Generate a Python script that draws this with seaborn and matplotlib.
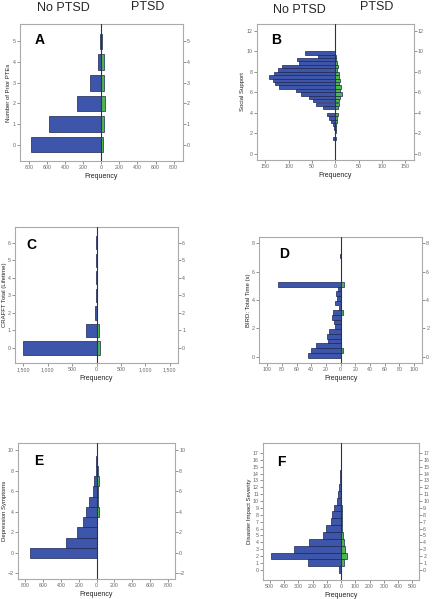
import matplotlib
matplotlib.use("Agg")
import matplotlib.pyplot as plt
from matplotlib.ticker import FuncFormatter
import numpy as np
import pandas as pd
import seaborn as sns

sns.set_theme(style="white")
plt.rcParams["font.family"] = ["Liberation Sans", "DejaVu Sans"]

BLUE = "#3D55AB"
GREEN = "#4CB84C"
EDGE = "#1E2650"

# --- A: number of prior PTEs ---
pte_bins = [0, 1, 2, 3, 4, 5]
pte_no = [780, 583, 268, 128, 37, 15]
pte_yes = [20, 30, 45, 35, 25, 5]

# --- B: social support (1/3-point bins) ---
support_bins = [9.83, 9.5, 9.17, 8.83, 8.5, 8.17, 7.83, 7.5, 7.17, 6.83,
                6.5, 6.17, 5.83, 5.5, 5.17, 4.83, 4.5, 4.17, 3.83, 3.5,
                3.17, 2.83, 2.5, 2.17, 1.83, 1.5, 1.17, 0.83, 0.5, 0.17]
support_no = [65, 38, 83, 79, 114, 124, 131, 143, 134, 129,
              121, 84, 74, 56, 49, 41, 27, 0, 18, 13,
              9, 6, 3, 1, 1, 5, 1, 1, 0, 1]
support_yes = [0, 1, 2, 4, 6, 3, 7, 8, 9, 8,
               12, 9, 15, 9, 7, 7, 6, 0, 5, 4,
               3, 2, 1, 1, 0, 1, 0, 0, 0, 0]

# --- C: CRAFFT total (lifetime) ---
crafft_bins = [0, 1, 2, 3, 4, 5, 6]
crafft_no = [1500, 226, 34, 12, 8, 5, 3]
crafft_yes = [75, 48, 5, 3, 3, 2, 1]

# --- D: BIRD total time (s) ---
bird_bins = [0.1, 0.43, 0.77, 1.1, 1.43, 1.77, 2.1, 2.43, 2.77, 3.1,
             3.43, 3.77, 4.1, 4.43, 4.77, 5.1, 7.1]
bird_no = [44, 40, 33, 17, 18, 16, 7, 9, 12, 11, 2, 7, 5, 6, 4, 86, 1]
bird_yes = [1, 3, 1, 1, 1, 1, 1, 1, 1, 3, 1, 1, 1, 1, 1, 4, 0]

# --- E: depression symptoms ---
dep_bins = [0, 1, 2, 3, 4, 5, 6, 7, 8, 9]
dep_no = [743, 343, 224, 149, 116, 86, 41, 26, 11, 4]
dep_yes = [2, 3, 4, 6, 22, 18, 20, 32, 12, 10]

# --- F: disaster impact severity ---
impact_bins = list(range(0, 17))
impact_no = [12, 233, 493, 328, 226, 128, 105, 67, 60, 47, 28, 21, 14, 9, 4, 2, 2]
impact_yes = [0, 18, 40, 28, 18, 15, 10, 5, 5, 4, 3, 2, 2, 1, 1, 0, 0]

PANELS = [
    dict(letter="A", bins=pte_bins, no=pte_no, yes=pte_yes, width=0.76,
         ylabel="Number of Prior PTEs", xmax=900, xticks=np.arange(-800, 801, 200),
         ylim=(-0.8, 5.85), yticks=np.arange(0, 6, 1),
         rect=(0.046, 0.731, 0.377, 0.229), letter_xy=(0.12, 0.88)),
    dict(letter="B", bins=support_bins, no=support_no, yes=support_yes, width=1.0,
         ylabel="Social Support", xmax=168, xticks=np.arange(-150, 151, 50),
         ylim=(-0.6, 12.65), yticks=np.arange(0, 13, 2),
         rect=(0.595, 0.733, 0.363, 0.227), letter_xy=(0.12, 0.88)),
    dict(letter="C", bins=crafft_bins, no=crafft_no, yes=crafft_yes, width=0.76,
         ylabel="CRAFFT Total (Lifetime)", xmax=1670, xticks=np.arange(-1500, 1501, 500),
         ylim=(-0.86, 6.9), yticks=np.arange(0, 7, 1),
         rect=(0.035, 0.394, 0.377, 0.227), letter_xy=(0.10, 0.87)),
    dict(letter="D", bins=bird_bins, no=bird_no, yes=bird_yes, width=1.0,
         ylabel="BIRD: Total Time (s)", xmax=111, xticks=np.arange(-100, 101, 20),
         ylim=(-0.45, 8.42), yticks=np.arange(0, 9, 2),
         rect=(0.600, 0.394, 0.377, 0.210), letter_xy=(0.15, 0.87)),
    dict(letter="E", bins=dep_bins, no=dep_no, yes=dep_yes, width=1.0,
         ylabel="Depression Symptoms", xmax=880, xticks=np.arange(-800, 801, 200),
         ylim=(-2.57, 10.7), yticks=np.arange(-2, 11, 2),
         rect=(0.042, 0.033, 0.363, 0.227), letter_xy=(0.13, 0.87)),
    dict(letter="F", bins=impact_bins, no=impact_no, yes=impact_yes, width=1.0,
         ylabel="Disaster Impact Severity", xmax=546, xticks=np.arange(-500, 501, 100),
         ylim=(-1.46, 18.5), yticks=np.arange(0, 18, 1),
         rect=(0.609, 0.032, 0.361, 0.229), letter_xy=(0.12, 0.86)),
]


def abs_fmt(v, _pos):
    return f"{abs(v):,.0f}"


def draw_panel(fig, p):
    ax = fig.add_axes(p["rect"])
    df = pd.concat([
        pd.DataFrame({"value": p["bins"], "freq": [-v for v in p["no"]], "group": "No PTSD"}),
        pd.DataFrame({"value": p["bins"], "freq": p["yes"], "group": "PTSD"}),
    ], ignore_index=True)
    sns.barplot(
        data=df, x="freq", y="value", hue="group", orient="h", native_scale=True,
        dodge=False, width=p["width"], saturation=1, legend=False,
        palette={"No PTSD": BLUE, "PTSD": GREEN},
        edgecolor=EDGE, linewidth=0.5, ax=ax,
    )
    ax.axvline(0, color="#333333", lw=0.8, zorder=5)
    ax.set_xlim(-p["xmax"], p["xmax"])
    ax.set_ylim(*p["ylim"])
    ax.set_xticks(p["xticks"])
    ax.set_yticks(p["yticks"])
    ax.xaxis.set_major_formatter(FuncFormatter(abs_fmt))
    ax.tick_params(axis="both", labelsize=3.8, colors="#666666", length=2, width=0.5,
                   pad=1, left=True, bottom=True, right=True, labelright=True)
    for s in ax.spines.values():
        s.set_color("#AAAAAA")
        s.set_linewidth(0.8)
    ax.set_xlabel("Frequency", fontsize=5, color="#222222", labelpad=2)
    ax.set_ylabel(p["ylabel"], fontsize=4.3, color="#222222", labelpad=1)
    ax.text(*p["letter_xy"], p["letter"], transform=ax.transAxes, fontsize=10,
            fontweight="bold", ha="center", va="center", color="black")
    return ax


fig = plt.figure(figsize=(4.32, 5.99), dpi=100)
for panel in PANELS:
    draw_panel(fig, panel)

for x_no, x_yes, y_no, y_yes in [(0.146, 0.343, 0.986, 0.989), (0.692, 0.873, 0.983, 0.988)]:
    fig.text(x_no, y_no, "No PTSD", fontsize=9, ha="center", va="center")
    fig.text(x_yes, y_yes, "PTSD", fontsize=9, ha="center", va="center")

fig.savefig("out.png", dpi=100)
